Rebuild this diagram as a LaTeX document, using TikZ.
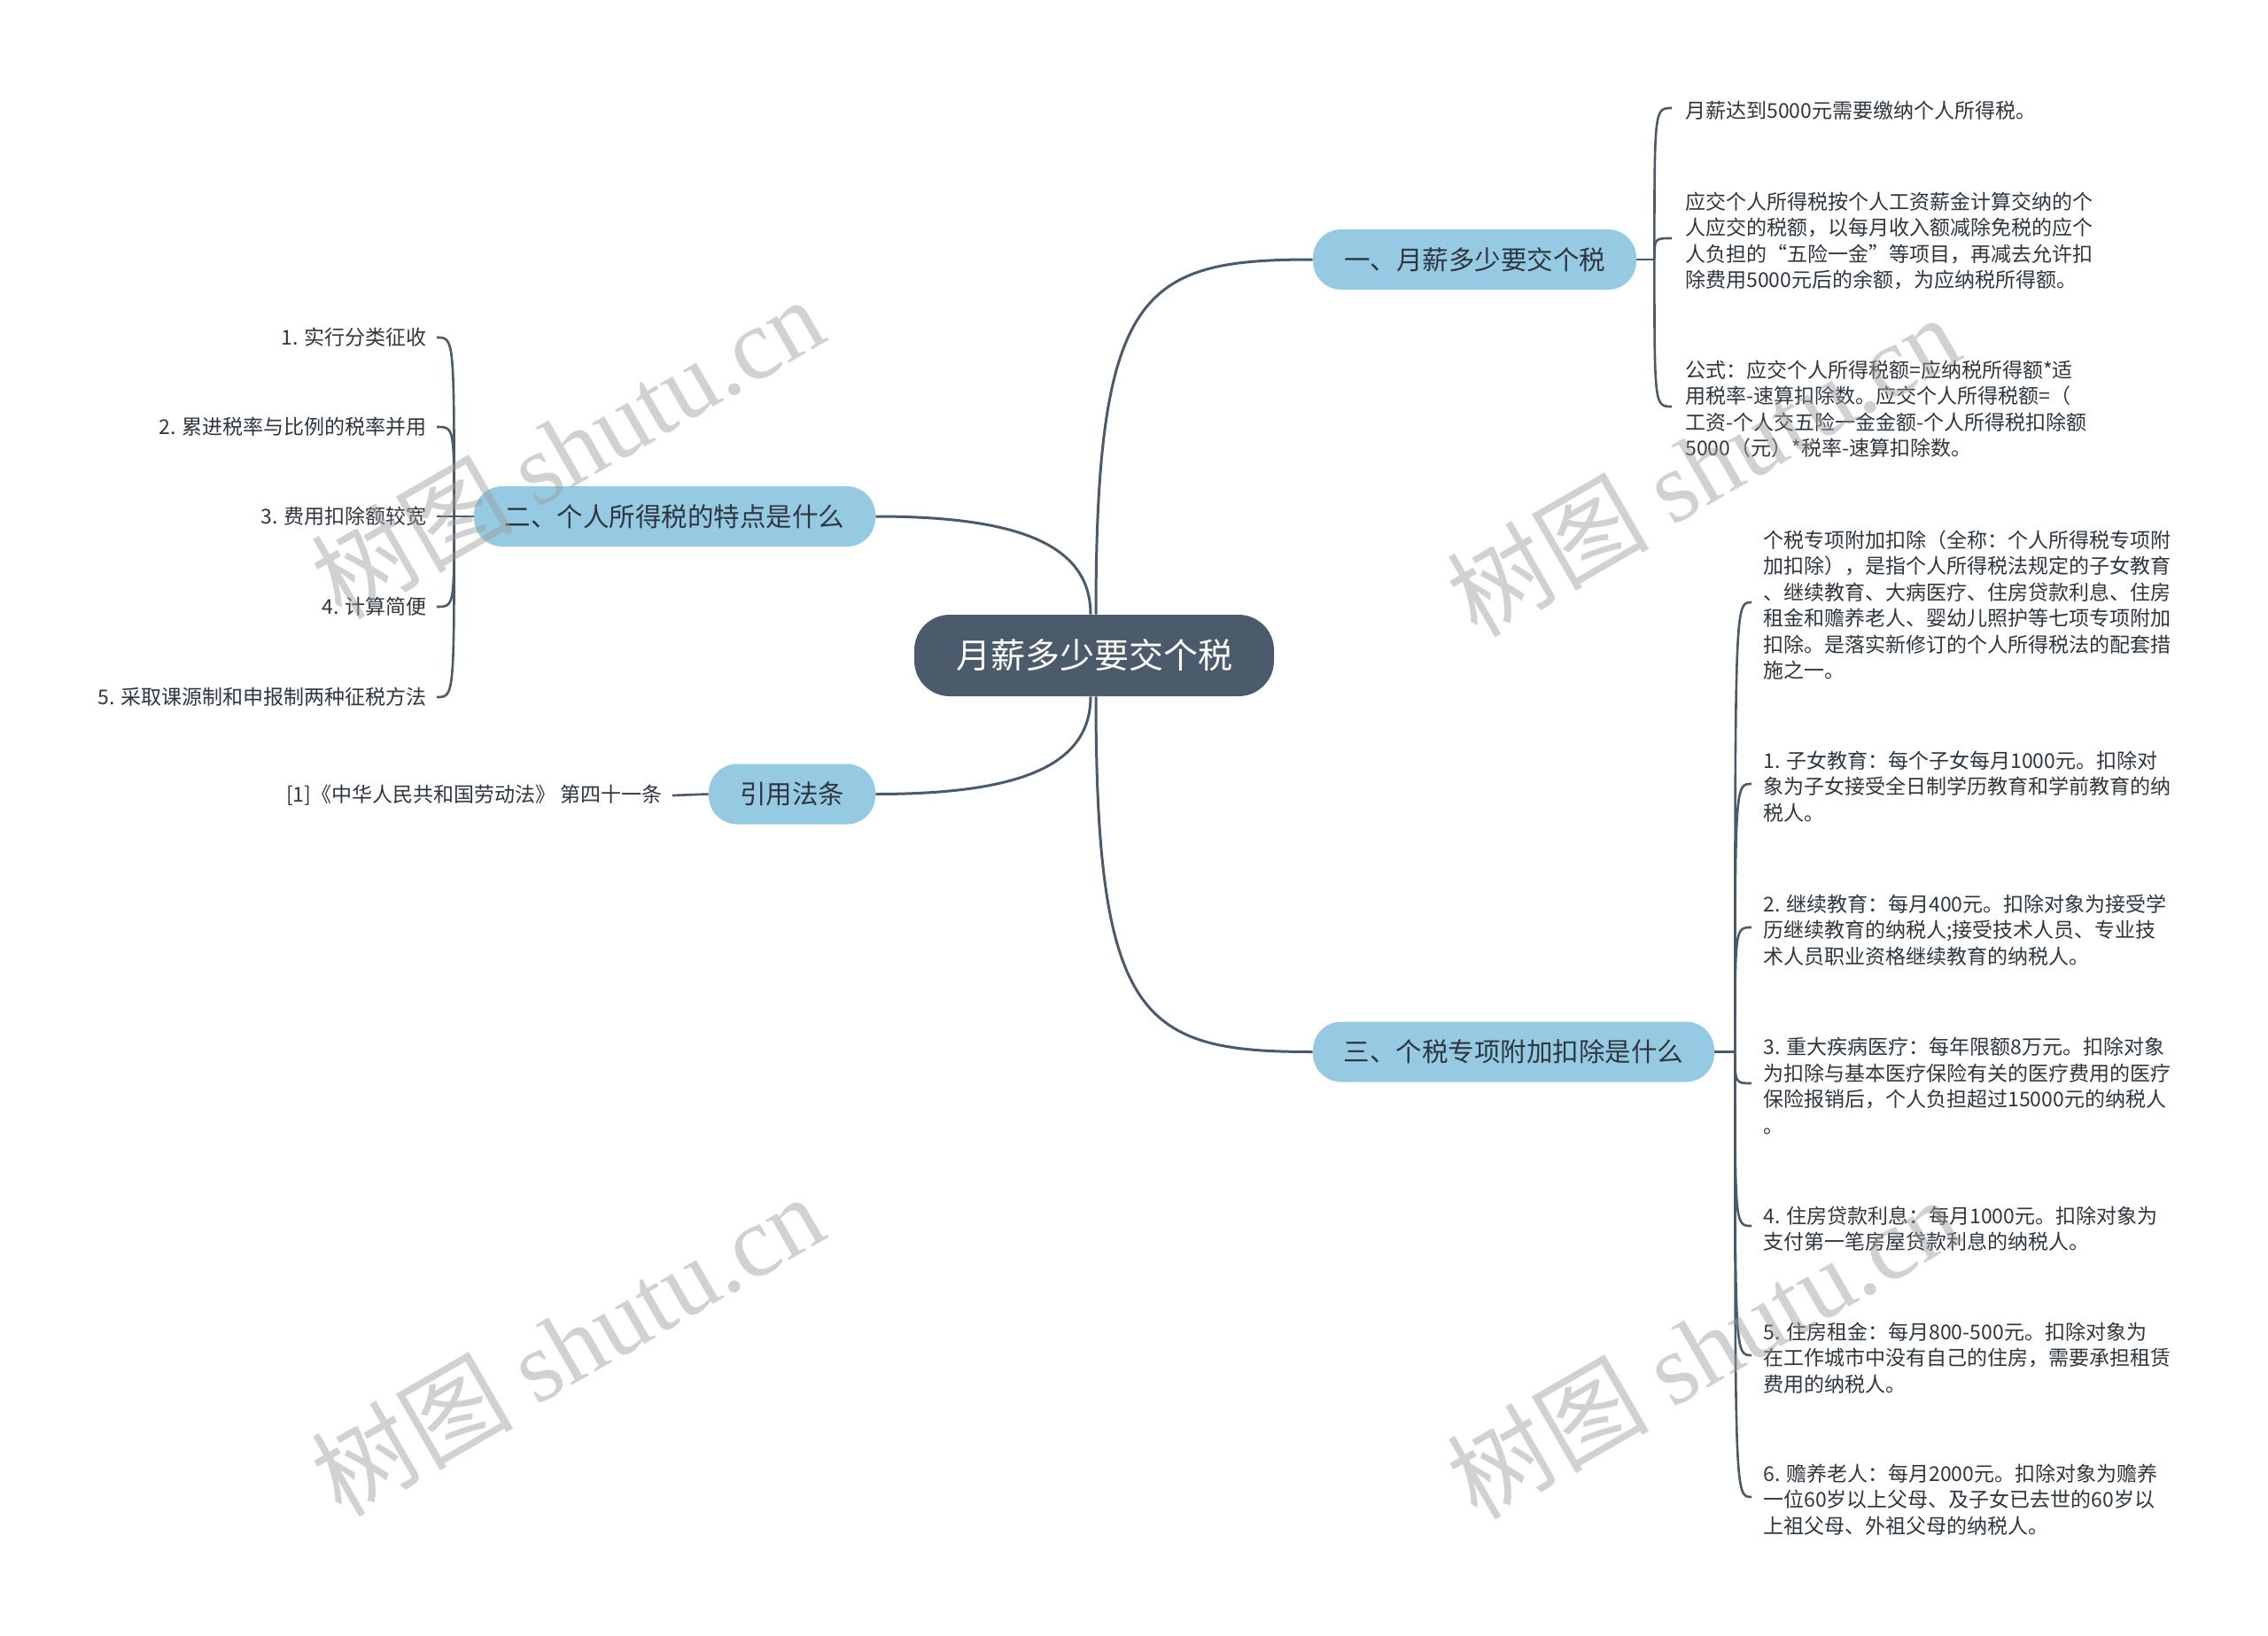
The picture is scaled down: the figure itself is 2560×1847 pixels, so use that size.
\documentclass[tikz,border=0pt]{standalone}
\usepackage{fontspec}
\setmainfont{Noto Sans CJK SC}
\newfontfamily\wmlat{Liberation Serif}
\usetikzlibrary{calc}
\definecolor{lineC}{HTML}{4A5A6A}
\definecolor{rootC}{HTML}{4B5B6B}
\definecolor{subC}{HTML}{96CAE2}
\definecolor{txtC}{HTML}{2E3640}
\definecolor{wmC}{HTML}{9A9A9A}
\pgfdeclarelayer{bg}
\pgfsetlayers{bg,main}
\begin{document}
\begin{tikzpicture}[x=0.5pt,y=-0.5pt,
  root/.style={fill=rootC, text=white, rounded corners=20pt, minimum height=46pt, inner sep=0pt, font=\fontsize{19.5pt}{23pt}\selectfont},
  sub/.style={fill=subC, text=txtC, rounded corners=16pt, minimum height=34pt, inner sep=0pt, font=\fontsize{14.75pt}{18pt}\selectfont},
  leafR/.style={text=txtC, inner sep=0pt, anchor=west, align=left, font=\fontsize{11.5pt}{14.75pt}\selectfont},
  leafL/.style={text=txtC, inner sep=0pt, anchor=east, align=right, font=\fontsize{11.5pt}{14.75pt}\selectfont},
  conn/.style={draw=lineC, line width=1.5pt},
  brace/.style={draw=lineC, line width=1.3pt},
  wm/.style={text=wmC, opacity=0.45, rotate=30, inner sep=0pt, font=\fontsize{57pt}{60pt}\selectfont}
]
\useasboundingbox (0,0) rectangle (2560,1847);

% main nodes
\node[root, minimum width=203pt] (root) at (1235,740) {月薪多少要交个税};
\node[sub, minimum width=182.5pt] (n1) at (1664.5,293) {一、月薪多少要交个税};
\node[sub, minimum width=226.5pt] (n2) at (761.5,583) {二、个人所得税的特点是什么};
\node[sub, minimum width=226.5pt] (n3) at (1708.5,1187.5) {三、个税专项附加扣除是什么};
\node[sub, minimum width=94pt] (n4) at (894,896.5) {引用法条};

% leaves of n1
\node[leafR] (a1) at (1902,125) {月薪达到5000元需要缴纳个人所得税。};
\node[leafR] (a2) at (1902,272) {应交个人所得税按个人工资薪金计算交纳的个\\人应交的税额，以每月收入额减除免税的应个\\人负担的“五险一金”等项目，再减去允许扣\\除费用5000元后的余额，为应纳税所得额。};
\node[leafR] (a3) at (1902,462) {公式：应交个人所得税额=应纳税所得额*适\\用税率-速算扣除数。应交个人所得税额=（\\工资-个人交五险一金金额-个人所得税扣除额\\5000（元）*税率-速算扣除数。};

% leaves of n3
\node[leafR] (c1) at (1990,683) {个税专项附加扣除（全称：个人所得税专项附\\加扣除），是指个人所得税法规定的子女教育\\、继续教育、大病医疗、住房贷款利息、住房\\租金和赡养老人、婴幼儿照护等七项专项附加\\扣除。是落实新修订的个人所得税法的配套措\\施之一。};
\node[leafR] (c2) at (1990,888) {1. 子女教育：每个子女每月1000元。扣除对\\象为子女接受全日制学历教育和学前教育的纳\\税人。};
\node[leafR] (c3) at (1990,1050) {2. 继续教育：每月400元。扣除对象为接受学\\历继续教育的纳税人;接受技术人员、专业技\\术人员职业资格继续教育的纳税人。};
\node[leafR] (c4) at (1990,1226) {3. 重大疾病医疗：每年限额8万元。扣除对象\\为扣除与基本医疗保险有关的医疗费用的医疗\\保险报销后，个人负担超过15000元的纳税人\\。};
\node[leafR] (c5) at (1990,1387) {4. 住房贷款利息：每月1000元。扣除对象为\\支付第一笔房屋贷款利息的纳税人。};
\node[leafR] (c6) at (1990,1533) {5. 住房租金：每月800-500元。扣除对象为\\在工作城市中没有自己的住房，需要承担租赁\\费用的纳税人。};
\node[leafR] (c7) at (1990,1693) {6. 赡养老人：每月2000元。扣除对象为赡养\\一位60岁以上父母、及子女已去世的60岁以\\上祖父母、外祖父母的纳税人。};

% leaves of n2
\node[leafL] (b1) at (482,381) {1. 实行分类征收};
\node[leafL] (b2) at (482,482) {2. 累进税率与比例的税率并用};
\node[leafL] (b3) at (482,583) {3. 费用扣除额较宽};
\node[leafL] (b4) at (482,685) {4. 计算简便};
\node[leafL] (b5) at (482,787) {5. 采取课源制和申报制两种征税方法};

% leaf of n4
\node[leafL] (d1) at (748,898) {[1]《中华人民共和国劳动法》 第四十一条};

% junctions
\coordinate (j1) at ($(n1.east)+(20,0)$);
\coordinate (j2) at ($(n2.west)+(-22,0)$);
\coordinate (j3) at ($(n3.east)+(23,0)$);

\begin{pgfonlayer}{bg}
  \fill[white] (0,0) rectangle (2560,1847);
  % main branches
  \draw[conn] ([xshift=1pt]root.north) .. controls (1237,326) and (1290,293) .. (n1.west);
  \draw[conn] ([xshift=-2pt]root.north) .. controls (1231,615) and (1150,583) .. (n2.east);
  \draw[conn] ([xshift=1pt]root.south) .. controls (1237,1154) and (1290,1187.5) .. (n3.west);
  \draw[conn] ([xshift=-2pt]root.south) .. controls (1231,865) and (1150,896.5) .. (n4.east);
  % n1 brace
  \draw[brace] (n1.east) -- (j1);
  \foreach \t in {a1,a2,a3}{
    \draw[brace] (j1) .. controls ($(j1 |- \t.west)+(0,-3)$) .. ($(\t.west)+(-15,-3)$);
  }
  % n3 brace
  \draw[brace] (n3.east) -- (j3);
  \foreach \t in {c1,c2,c3,c4,c5,c6,c7}{
    \draw[brace] (j3) .. controls ($(j3 |- \t.west)+(0,-3)$) .. ($(\t.west)+(-13,-3)$);
  }
  % n2 brace
  \draw[brace] (n2.west) -- (j2);
  \foreach \t in {b1,b2,b4,b5}{
    \draw[brace] (j2) .. controls ($(j2 |- \t.east)$) .. ($(\t.east)+(11,0)$);
  }
  \draw[brace] (j2) -- ($(b3.east)+(11,0)$);
  % n4
  \draw[brace] (n4.west) -- ($(d1.east)+(11,0)$);
\end{pgfonlayer}

% watermarks
\node[wm] (wm1) at (640,505) {树图 {\wmlat shutu.cn}};
\node[wm] (wm2) at (1922,525) {树图 {\wmlat shutu.cn}};
\node[wm] (wm3) at (640,1518) {树图 {\wmlat shutu.cn}};
\node[wm] (wm4) at (1922,1521) {树图 {\wmlat shutu.cn}};
\end{tikzpicture}
\end{document}
